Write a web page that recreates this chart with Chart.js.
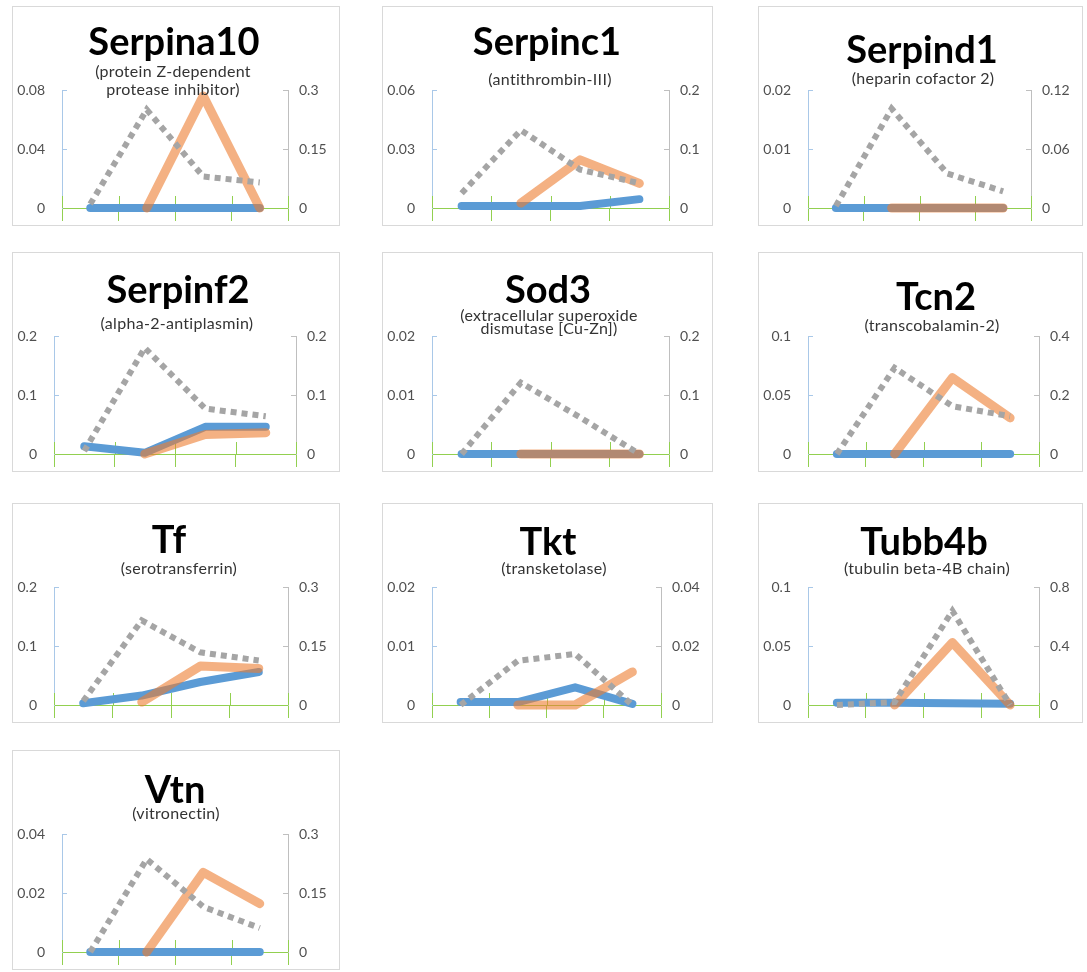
<!DOCTYPE html>
<html>
<head>
<meta charset="utf-8">
<script src="https://cdn.jsdelivr.net/npm/chart.js@4.4.1/dist/chart.umd.min.js"></script>
<style>
  html, body { margin: 0; padding: 0; background: #fff; }
  body { width: 1087px; height: 972px; position: relative; overflow: hidden; font-family: Lato, "Noto Sans", sans-serif; }
  .panel { position: absolute; border: 1px solid #d9d9d9; box-sizing: border-box; background: #fff; }
  .panel canvas { position: absolute; left: 0; top: 0; }
  .gene { position: absolute; font-weight: 700; font-size: 38px; line-height: 38px; color: #000; white-space: nowrap; transform: translateX(-50%); }
  .protein { position: absolute; font-size: 16px; letter-spacing: 0.3px; color: #333; white-space: nowrap; text-align: center; transform: translateX(-50%); }
</style>
</head>
<body>
<script>
// Gene symbols and protein names, one entry per panel
const genes = ['Serpina10', 'Serpinc1', 'Serpind1', 'Serpinf2', 'Sod3', 'Tcn2', 'Tf', 'Tkt', 'Tubb4b', 'Vtn'];
const proteins = [
  ['(protein Z-dependent', 'protease inhibitor)'],
  ['(antithrombin-III)'],
  ['(heparin cofactor 2)'],
  ['(alpha-2-antiplasmin)'],
  ['(extracellular superoxide', 'dismutase [Cu-Zn])'],
  ['(transcobalamin-2)'],
  ['(serotransferrin)'],
  ['(transketolase)'],
  ['(tubulin beta-4B chain)'],
  ['(vitronectin)']
];

// Four time points on the x axis
const categories = ['1', '2', '3', '4'];

// Series A (left axis, solid)
const seriesA = [
  [0, 0, 0, 0],
  [0.001, 0.001, 0.001, 0.0045],
  [0, 0, 0, 0],
  [0.013, 0.002, 0.046, 0.046],
  [0, 0, 0, 0],
  [0, 0, 0, 0],
  [0.003, 0.016, 0.039, 0.056],
  [0.0005, 0.0005, 0.003, 0.0002],
  [0.002, 0.002, 0.0015, 0.001],
  [0, 0, 0, 0]
];

// Series B (left axis, solid, no value at the first point)
const seriesB = [
  [null, 0, 0.076, 0],
  [null, 0.0025, 0.0245, 0.0125],
  [null, 0, 0, 0],
  [null, 0, 0.033, 0.036],
  [null, 0, 0, 0],
  [null, 0, 0.0646, 0.0306],
  [null, 0.005, 0.066, 0.062],
  [null, 0, 0, 0.0056],
  [null, 0, 0.053, 0],
  [null, 0, 0.027, 0.0164]
];

// Series C (right axis, dotted)
const seriesC = [
  [0.01, 0.25, 0.08, 0.065],
  [0.025, 0.132, 0.065, 0.042],
  [0.002, 0.101, 0.035, 0.017],
  [0.005, 0.18, 0.077, 0.064],
  [0, 0.121, 0.062, 0],
  [0, 0.292, 0.162, 0.128],
  [0.01, 0.215, 0.134, 0.113],
  [0, 0.015, 0.0173, 0],
  [0, 0.02, 0.638, 0],
  [0, 0.236, 0.115, 0.061]
];

// Tick labels for the left and right value axes
const leftTicks = [
  ['0', '0.04', '0.08'],
  ['0', '0.03', '0.06'],
  ['0', '0.01', '0.02'],
  ['0', '0.1', '0.2'],
  ['0', '0.01', '0.02'],
  ['0', '0.05', '0.1'],
  ['0', '0.1', '0.2'],
  ['0', '0.01', '0.02'],
  ['0', '0.05', '0.1'],
  ['0', '0.02', '0.04']
];
const rightTicks = [
  ['0', '0.15', '0.3'],
  ['0', '0.1', '0.2'],
  ['0', '0.06', '0.12'],
  ['0', '0.1', '0.2'],
  ['0', '0.1', '0.2'],
  ['0', '0.2', '0.4'],
  ['0', '0.15', '0.3'],
  ['0', '0.02', '0.04'],
  ['0', '0.4', '0.8'],
  ['0', '0.15', '0.3']
];

// Panel grid
const colX = [12, 382, 758];
const colW = [328, 331, 325];
const rowY = [6, 252, 503, 750];
const panelH = 220;

// Heading placement inside each panel: title centre/baseline, subtitle centre/first line centre/line height
const headings = [
  { tx: 162, tb: 49, sx: 161, sc: 67, lh: 18 },
  { tx: 165, tb: 49, sx: 168, sc: 75, lh: 16 },
  { tx: 164, tb: 57, sx: 165, sc: 74, lh: 16 },
  { tx: 166, tb: 51, sx: 165, sc: 73, lh: 16 },
  { tx: 166, tb: 51, sx: 167, sc: 64, lh: 13 },
  { tx: 178, tb: 58, sx: 174, sc: 75, lh: 16 },
  { tx: 157, tb: 50, sx: 167, sc: 67, lh: 16 },
  { tx: 166, tb: 52, sx: 172, sc: 67, lh: 16 },
  { tx: 166, tb: 52, sx: 169, sc: 67, lh: 16 },
  { tx: 163, tb: 53, sx: 164, sc: 65, lh: 16 }
];

const GREEN = '#92d050';
const BLUE = '#5b9bd5';
const ORANGE = 'rgba(237,125,49,0.6)';
const GREY = '#a5a5a5';
const TICK_FONT = '14px Lato, "Noto Sans", sans-serif';

Chart.defaults.font.family = 'Lato, "Noto Sans", sans-serif';
Chart.defaults.font.size = 14;
Chart.defaults.color = '#505050';

// Category boundary marks that rise above the x axis (the library draws the lower half)
const crossTicks = {
  id: 'crossTicks',
  beforeDatasetsDraw(chart) {
    const xs = chart.scales.x;
    const ctx = chart.ctx;
    const n = xs.ticks.length;
    ctx.save();
    ctx.strokeStyle = GREEN;
    ctx.lineWidth = 1;
    for (let k = 0; k <= n; k++) {
      const px = Math.round(xs.left + (xs.right - xs.left) * k / n) + 0.5;
      ctx.beginPath();
      ctx.moveTo(px, xs.top);
      ctx.lineTo(px, xs.top - 12);
      ctx.stroke();
    }
    ctx.restore();
  }
};

// Value axis with short inward ticks; width = widest label + gap to the axis line
function valueAxis(position, labels, color, gap) {
  const values = labels.map(Number);
  return {
    type: 'linear',
    position: position,
    min: 0,
    max: values[values.length - 1],
    afterBuildTicks: (axis) => { axis.ticks = values.map(v => ({ value: v })); },
    afterFit: (axis) => {
      const ctx = axis.ctx;
      ctx.save();
      ctx.font = TICK_FONT;
      const widest = Math.max(...labels.map(l => ctx.measureText(l).width));
      ctx.restore();
      axis.width = Math.ceil(widest) + gap;
      axis.paddingTop = 9;
      axis.paddingBottom = 9;
    },
    ticks: { padding: gap + 5, callback: (v, i) => labels[i], color: '#505050' },
    grid: { drawOnChartArea: false, drawTicks: true, tickLength: -5, color: color },
    border: { display: true, color: color, width: 1 }
  };
}

genes.forEach((gene, i) => {
  const col = i % 3, row = Math.floor(i / 3);
  const w = colW[col];
  const panel = document.createElement('div');
  panel.className = 'panel';
  panel.style.left = colX[col] + 'px';
  panel.style.top = rowY[row] + 'px';
  panel.style.width = w + 'px';
  panel.style.height = panelH + 'px';
  document.body.appendChild(panel);

  const canvas = document.createElement('canvas');
  canvas.width = w - 2;
  canvas.height = panelH - 2;
  canvas.style.width = (w - 2) + 'px';
  canvas.style.height = (panelH - 2) + 'px';
  panel.appendChild(canvas);

  const h = headings[i];
  const t = document.createElement('div');
  t.className = 'gene';
  t.textContent = gene;
  t.style.left = (h.tx - 1) + 'px';
  t.style.top = (h.tb - 34 - 1) + 'px';
  panel.appendChild(t);

  const s = document.createElement('div');
  s.className = 'protein';
  s.style.lineHeight = h.lh + 'px';
  s.style.left = (h.sx - 1) + 'px';
  s.style.top = (h.sc - h.lh / 2 - 1.8 - 1) + 'px';
  s.innerHTML = proteins[i].map(l => l.replace(/&/g, '&amp;').replace(/</g, '&lt;')).join('<br>');
  panel.appendChild(s);

  new Chart(canvas, {
    type: 'line',
    data: {
      labels: categories,
      datasets: [
        { data: seriesC[i], yAxisID: 'y1', borderColor: GREY, borderWidth: 6, borderDash: [6, 5],
          borderCapStyle: 'butt', borderJoinStyle: 'miter', pointRadius: 0, tension: 0, clip: false, order: 0 },
        { data: seriesB[i], yAxisID: 'y', borderColor: ORANGE, borderWidth: 9,
          borderCapStyle: 'round', borderJoinStyle: 'round', pointRadius: 0, tension: 0, clip: false, order: 1 },
        { data: seriesA[i], yAxisID: 'y', borderColor: BLUE, borderWidth: 8,
          borderCapStyle: 'round', borderJoinStyle: 'round', pointRadius: 0, tension: 0, clip: false, order: 2 }
      ]
    },
    options: {
      responsive: false,
      animation: false,
      devicePixelRatio: 1,
      layout: { padding: { top: 83, bottom: 4, left: 4, right: 12 } },
      plugins: { legend: { display: false }, tooltip: { enabled: false }, title: { display: false } },
      scales: {
        x: {
          type: 'category',
          offset: true,
          ticks: { display: false },
          grid: { offset: true, drawOnChartArea: false, drawTicks: true, tickLength: 13, color: GREEN },
          border: { display: true, color: GREEN, width: 1 }
        },
        y: valueAxis('left', leftTicks[i], '#a9c8e8', 17),
        y1: valueAxis('right', rightTicks[i], '#bfbfbf', 11)
      }
    },
    plugins: [crossTicks]
  });
});
</script>
</body>
</html>
